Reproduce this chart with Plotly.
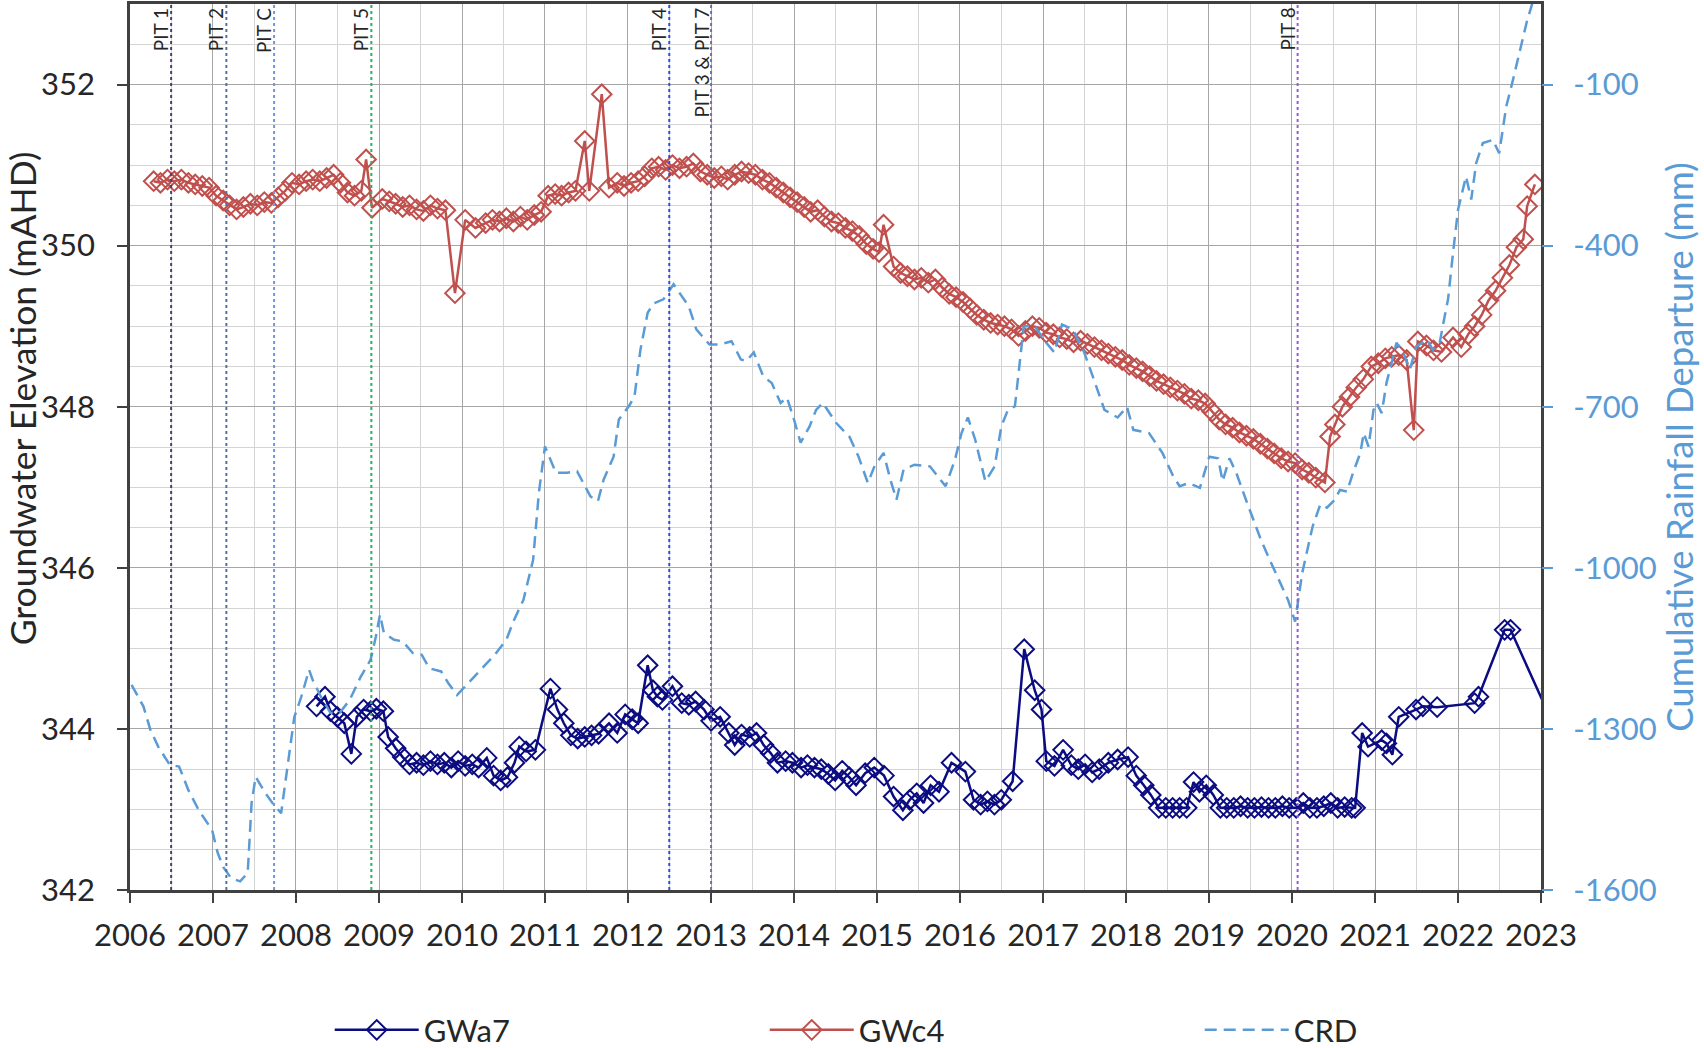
# -*- coding: utf-8 -*-

import plotly.graph_objects as go
import plotly.subplots as ms

# GWa7 groundwater elevation (mAHD)
gwa7_dates = [
    "2008-04-01", "2008-05-08", "2008-06-01", "2008-07-01", "2008-08-01", "2008-09-01",
    "2008-09-25", "2008-10-25", "2008-11-25", "2008-12-20", "2009-01-20", "2009-02-10",
    "2009-03-15", "2009-04-15", "2009-05-15", "2009-06-15", "2009-07-15", "2009-08-15",
    "2009-09-15", "2009-10-15", "2009-11-15", "2009-12-15", "2010-01-15", "2010-02-15",
    "2010-03-15", "2010-04-20", "2010-05-20", "2010-06-20", "2010-07-20", "2010-08-20",
    "2010-09-10", "2010-10-10", "2010-11-20", "2011-01-25", "2011-02-25", "2011-03-25",
    "2011-04-25", "2011-05-25", "2011-06-25", "2011-07-25", "2011-08-25", "2011-10-10",
    "2011-11-15", "2011-12-20", "2012-01-20", "2012-02-15", "2012-03-28", "2012-04-20",
    "2012-05-10", "2012-06-01", "2012-07-15", "2012-08-25", "2012-09-25", "2012-10-25",
    "2012-12-01", "2013-01-01", "2013-02-10", "2013-03-20", "2013-04-15", "2013-05-15",
    "2013-06-20", "2013-07-20", "2013-08-20", "2013-09-20", "2013-10-20", "2013-11-25",
    "2013-12-25", "2014-02-01", "2014-03-01", "2014-04-01", "2014-05-01", "2014-06-01",
    "2014-07-01", "2014-08-01", "2014-09-01", "2014-10-01", "2014-11-10", "2014-12-20",
    "2015-02-01", "2015-03-15", "2015-04-25", "2015-05-25", "2015-06-25", "2015-07-25",
    "2015-08-25", "2015-10-01", "2015-11-25", "2016-01-25", "2016-03-01", "2016-04-01",
    "2016-05-01", "2016-06-01", "2016-07-01", "2016-08-20", "2016-10-10", "2016-11-25",
    "2016-12-25", "2017-01-15", "2017-02-20", "2017-03-30", "2017-05-05", "2017-06-05",
    "2017-07-05", "2017-08-05", "2017-09-05", "2017-10-15", "2017-11-25", "2018-01-10",
    "2018-02-15", "2018-03-20", "2018-04-20", "2018-05-25", "2018-06-25", "2018-07-25",
    "2018-08-25", "2018-09-25", "2018-10-25", "2018-11-20", "2018-12-20", "2019-01-20",
    "2019-02-20", "2019-03-20", "2019-04-20", "2019-05-20", "2019-06-20", "2019-07-20",
    "2019-08-20", "2019-09-20", "2019-10-20", "2019-11-20", "2019-12-20", "2020-01-20",
    "2020-02-20", "2020-03-20", "2020-04-20", "2020-05-20", "2020-06-20", "2020-07-20",
    "2020-08-20", "2020-09-20", "2020-10-05", "2020-11-05", "2020-12-01", "2021-01-30",
    "2021-02-20", "2021-03-18", "2021-04-15", "2021-06-30", "2021-07-30", "2021-10-01",
    "2022-03-15", "2022-04-01", "2022-07-25", "2022-08-20", "2023-02-25",
]
gwa7_values = [
    344.28, 344.40, 344.22, 344.15, 344.07, 343.69,
    344.15, 344.24, 344.22, 344.25, 344.22, 343.90,
    343.76, 343.65, 343.56, 343.58, 343.55, 343.60,
    343.56, 343.58, 343.52, 343.60, 343.54, 343.56,
    343.52, 343.64, 343.42, 343.36, 343.40, 343.58,
    343.78, 343.72, 343.74, 344.50, 344.24, 344.07,
    343.92, 343.88, 343.90, 343.92, 343.94, 344.07,
    343.95, 344.18, 344.12, 344.07, 344.79, 344.48,
    344.40, 344.36, 344.53, 344.32, 344.30, 344.34,
    344.24, 344.10, 344.15, 343.95, 343.80, 343.93,
    343.90, 343.95, 343.80, 343.70, 343.58, 343.60,
    343.58, 343.52, 343.55, 343.52, 343.50, 343.44,
    343.36, 343.48, 343.40, 343.30, 343.45, 343.52,
    343.42, 343.16, 342.99, 343.12, 343.20, 343.08,
    343.30, 343.22, 343.58, 343.47, 343.12, 343.06,
    343.10, 343.06, 343.12, 343.35, 344.99, 344.48,
    344.24, 343.60, 343.54, 343.74, 343.55, 343.50,
    343.56, 343.46, 343.50, 343.58, 343.62, 343.65,
    343.42, 343.30, 343.18, 343.02, 343.02, 343.02,
    343.02, 343.02, 343.34, 343.22, 343.30, 343.18,
    343.02, 343.02, 343.02, 343.04, 343.02, 343.02,
    343.03, 343.02, 343.02, 343.04, 343.02, 343.02,
    343.08, 343.02, 343.02, 343.04, 343.08, 343.02,
    343.03, 343.02, 343.02, 343.95, 343.78, 343.86,
    343.82, 343.68, 344.15, 344.24, 344.28, 344.27,
    344.32, 344.40, 345.23, 345.23, 344.05,
]

# GWc4 groundwater elevation (mAHD)
gwc4_dates = [
    "2006-04-15", "2006-05-15", "2006-06-15", "2006-07-15", "2006-08-15", "2006-09-15",
    "2006-10-15", "2006-11-15", "2006-12-15", "2007-01-15", "2007-02-15", "2007-03-15",
    "2007-04-15", "2007-05-15", "2007-06-15", "2007-07-15", "2007-08-15", "2007-09-15",
    "2007-10-15", "2007-11-15", "2007-12-15", "2008-01-15", "2008-02-15", "2008-03-15",
    "2008-04-15", "2008-05-15", "2008-06-15", "2008-07-15", "2008-08-15", "2008-09-15",
    "2008-10-15", "2008-11-05", "2008-12-01", "2009-01-15", "2009-02-15", "2009-03-15",
    "2009-04-15", "2009-05-15", "2009-06-15", "2009-07-15", "2009-08-15", "2009-09-15",
    "2009-10-20", "2009-12-01", "2010-01-15", "2010-03-01", "2010-04-15", "2010-05-15",
    "2010-06-15", "2010-07-15", "2010-08-15", "2010-09-15", "2010-10-15", "2010-11-15",
    "2010-12-15", "2011-01-15", "2011-02-15", "2011-03-15", "2011-04-15", "2011-05-15",
    "2011-06-25", "2011-07-15", "2011-09-08", "2011-10-10", "2011-11-15", "2011-12-15",
    "2012-01-15", "2012-02-15", "2012-03-15", "2012-04-15", "2012-05-15", "2012-06-15",
    "2012-07-15", "2012-08-15", "2012-09-15", "2012-10-15", "2012-11-15", "2012-12-15",
    "2013-01-15", "2013-02-15", "2013-03-15", "2013-04-15", "2013-05-15", "2013-06-15",
    "2013-07-15", "2013-08-15", "2013-09-15", "2013-10-15", "2013-11-15", "2013-12-15",
    "2014-01-15", "2014-02-15", "2014-03-15", "2014-04-15", "2014-05-15", "2014-06-15",
    "2014-07-15", "2014-08-15", "2014-09-15", "2014-10-15", "2014-11-15", "2014-12-15",
    "2015-01-10", "2015-01-30", "2015-03-15", "2015-04-15", "2015-05-15", "2015-06-15",
    "2015-07-15", "2015-08-15", "2015-09-15", "2015-10-15", "2015-11-15", "2015-12-15",
    "2016-01-15", "2016-02-15", "2016-03-15", "2016-04-15", "2016-05-15", "2016-06-15",
    "2016-07-15", "2016-08-15", "2016-09-15", "2016-10-15", "2016-11-15", "2016-12-15",
    "2017-01-15", "2017-02-15", "2017-03-15", "2017-04-15", "2017-05-15", "2017-06-15",
    "2017-07-15", "2017-08-15", "2017-09-15", "2017-10-15", "2017-11-15", "2017-12-15",
    "2018-01-15", "2018-02-15", "2018-03-15", "2018-04-15", "2018-05-15", "2018-06-15",
    "2018-07-15", "2018-08-15", "2018-09-15", "2018-10-15", "2018-11-15", "2018-12-15",
    "2019-01-15", "2019-02-15", "2019-03-15", "2019-04-15", "2019-05-15", "2019-06-15",
    "2019-07-15", "2019-08-15", "2019-09-15", "2019-10-15", "2019-11-15", "2019-12-15",
    "2020-01-15", "2020-02-15", "2020-03-15", "2020-04-15", "2020-05-25", "2020-06-17",
    "2020-07-08", "2020-08-10", "2020-09-10", "2020-10-10", "2020-11-10", "2020-12-15",
    "2021-01-15", "2021-02-15", "2021-03-15", "2021-04-15", "2021-05-20", "2021-06-20",
    "2021-07-08", "2021-08-15", "2021-09-15", "2021-10-20", "2021-12-10", "2022-01-15",
    "2022-02-15", "2022-03-15", "2022-04-15", "2022-05-15", "2022-06-15", "2022-07-15",
    "2022-08-15", "2022-09-15", "2022-10-15", "2022-11-01", "2022-12-05",
]
gwc4_values = [
    350.80, 350.78, 350.82, 350.80, 350.82, 350.78,
    350.76, 350.74, 350.72, 350.62, 350.56, 350.50,
    350.45, 350.48, 350.52, 350.50, 350.54, 350.53,
    350.60, 350.68, 350.78, 350.76, 350.80, 350.82,
    350.80, 350.84, 350.88, 350.78, 350.66, 350.62,
    350.68, 351.07, 350.47, 350.58, 350.55, 350.52,
    350.48, 350.50, 350.45, 350.43, 350.50, 350.46,
    350.44, 349.41, 350.32, 350.22, 350.28, 350.32,
    350.30, 350.34, 350.30, 350.36, 350.32, 350.38,
    350.42, 350.62, 350.64, 350.62, 350.66, 350.68,
    351.30, 350.68, 351.88, 350.72, 350.78, 350.74,
    350.78, 350.80, 350.86, 350.96, 350.98, 350.94,
    351.00, 350.96, 350.98, 351.02, 350.92, 350.88,
    350.84, 350.86, 350.82, 350.88, 350.92, 350.90,
    350.88, 350.82, 350.78, 350.72, 350.66, 350.60,
    350.54, 350.48, 350.42, 350.44, 350.36, 350.30,
    350.28, 350.22, 350.18, 350.12, 350.02, 349.96,
    349.92, 350.26, 349.74, 349.66, 349.62, 349.58,
    349.60, 349.54, 349.58, 349.48, 349.40, 349.36,
    349.30, 349.22, 349.14, 349.08, 349.04, 349.02,
    349.00, 348.96, 348.88, 348.94, 349.00, 348.98,
    348.92, 348.90, 348.86, 348.84, 348.80, 348.82,
    348.78, 348.74, 348.70, 348.66, 348.62, 348.58,
    348.52, 348.48, 348.44, 348.38, 348.32, 348.28,
    348.24, 348.20, 348.16, 348.10, 348.08, 348.04,
    347.94, 347.84, 347.78, 347.74, 347.68, 347.64,
    347.60, 347.54, 347.48, 347.42, 347.36, 347.32,
    347.30, 347.22, 347.18, 347.12, 347.06, 347.63,
    347.78, 348.00, 348.12, 348.24, 348.34, 348.50,
    348.54, 348.60, 348.62, 348.64, 348.58, 347.71,
    348.81, 348.76, 348.70, 348.68, 348.86, 348.74,
    348.90, 349.00, 349.14, 349.32, 349.44, 349.60,
    349.76, 349.98, 350.08, 350.49, 350.76,
]

# CRD cumulative rainfall departure (mm)
crd_dates = [
    "2006-01-08", "2006-03-01", "2006-04-01", "2006-05-05", "2006-06-25", "2006-08-05",
    "2006-09-15", "2006-10-30", "2006-12-28", "2007-01-22", "2007-02-15", "2007-03-22",
    "2007-05-01", "2007-06-03", "2007-06-20", "2007-07-08", "2007-08-20", "2007-09-20",
    "2007-10-28", "2007-11-28", "2007-12-25", "2008-01-25", "2008-02-28", "2008-03-15",
    "2008-04-20", "2008-06-01", "2008-07-12", "2008-08-25", "2008-10-12", "2008-11-25",
    "2008-12-18", "2009-01-05", "2009-01-22", "2009-03-08", "2009-04-15", "2009-05-30",
    "2009-07-08", "2009-08-10", "2009-10-01", "2009-11-02", "2009-12-10", "2010-01-12",
    "2010-03-18", "2010-05-25", "2010-07-15", "2010-08-18", "2010-09-28", "2010-11-10",
    "2010-12-05", "2011-01-01", "2011-02-18", "2011-04-08", "2011-05-22", "2011-07-20",
    "2011-08-22", "2011-09-16", "2011-10-30", "2011-11-22", "2012-01-05", "2012-01-30",
    "2012-02-25", "2012-03-28", "2012-04-22", "2012-06-05", "2012-07-20", "2012-09-25",
    "2012-10-28", "2012-12-25", "2013-02-10", "2013-04-01", "2013-05-12", "2013-06-05",
    "2013-07-08", "2013-08-18", "2013-09-25", "2013-11-03", "2013-12-01", "2014-01-01",
    "2014-01-30", "2014-03-10", "2014-04-08", "2014-05-08", "2014-07-05", "2014-09-02",
    "2014-10-12", "2014-11-22", "2014-12-20", "2015-01-30", "2015-03-01", "2015-03-28",
    "2015-04-28", "2015-06-15", "2015-08-22", "2015-10-30", "2015-12-10", "2016-01-08",
    "2016-02-05", "2016-03-08", "2016-04-22", "2016-06-02", "2016-07-01", "2016-07-30",
    "2016-08-30", "2016-09-20", "2016-10-08", "2016-11-25", "2017-01-15", "2017-02-20",
    "2017-03-25", "2017-05-12", "2017-07-01", "2017-08-18", "2017-09-28", "2017-11-25",
    "2018-01-05", "2018-02-02", "2018-04-12", "2018-06-10", "2018-07-28", "2018-08-25",
    "2018-10-05", "2018-11-22", "2019-01-02", "2019-02-10", "2019-03-02", "2019-04-01",
    "2019-05-01", "2019-06-15", "2019-08-15", "2019-09-25", "2019-11-10", "2019-12-15",
    "2020-01-15", "2020-02-15", "2020-04-01", "2020-05-05", "2020-06-03", "2020-07-08",
    "2020-07-30", "2020-08-30", "2020-09-26", "2020-10-28", "2020-11-12", "2020-12-03",
    "2020-12-25", "2021-01-08", "2021-01-30", "2021-02-20", "2021-03-15", "2021-04-05",
    "2021-05-05", "2021-06-03", "2021-07-01", "2021-08-18", "2021-09-12", "2021-10-12",
    "2021-11-03", "2021-11-18", "2021-12-10", "2022-01-01", "2022-01-22", "2022-02-05",
    "2022-02-28", "2022-03-22", "2022-04-20", "2022-06-03", "2022-07-01", "2022-08-01",
    "2022-08-28", "2022-10-01", "2022-10-30", "2022-11-25", "2023-01-10",
]
crd_values = [
    -1218, -1258, -1302, -1333, -1367, -1370,
    -1414, -1451, -1488, -1531, -1557, -1578,
    -1584, -1568, -1438, -1389, -1420, -1438,
    -1457, -1358, -1278, -1240, -1190, -1209,
    -1240, -1270, -1270, -1246, -1203, -1171,
    -1128, -1087, -1121, -1134, -1137, -1159,
    -1162, -1187, -1193, -1215, -1237, -1222,
    -1193, -1162, -1134, -1097, -1060, -985,
    -861, -774, -823, -823, -820, -867,
    -876, -836, -793, -724, -699, -681,
    -594, -525, -508, -500, -472, -513,
    -556, -584, -584, -578, -612, -615,
    -599, -643, -656, -693, -683, -724,
    -767, -737, -706, -693, -730, -756,
    -793, -842, -812, -786, -836, -873,
    -817, -808, -811, -848, -799, -749,
    -720, -761, -839, -811, -737, -706,
    -699, -625, -550, -550, -581, -599,
    -547, -556, -599, -656, -706, -720,
    -700, -743, -749, -786, -830, -848,
    -842, -851, -793, -796, -839, -796,
    -823, -876, -945, -985, -1028, -1060,
    -1100, -1010, -923, -882, -888, -873,
    -855, -858, -823, -786, -749, -774,
    -706, -693, -712, -656, -618, -581,
    -599, -631, -588, -575, -594, -581,
    -532, -500, -413, -333, -296, -271,
    -314, -246, -209, -203, -228, -141,
    -96, -35, 16, 53, 100,
]

# right axis tick labels (plain hyphen, as in the source chart)
crd_ticks = [-1600, -1300, -1000, -700, -400, -100]
crd_ticktext = ["-1600", "-1300", "-1000", "-700", "-400", "-100"]

# pit events (vertical markers)
pit_names = ["PIT 1", "PIT 2", "PIT C", "PIT 5", "PIT 4", "PIT 3 & PIT 7", "PIT 8"]
pit_dates = ["2006-07-01", "2007-03-01", "2007-09-27", "2008-11-28",
             "2012-07-01", "2013-01-01", "2020-01-26"]
pit_colors = ["#4a3f72", "#4f73a8", "#6a9ad6", "#1fb85a", "#2850e6", "#7a6a9e", "#9a5ad0"]

FONT = "Lato"
BLUE = "#5b9bd5"
DARK = "#262626"

fig = ms.make_subplots(specs=[[{"secondary_y": True}]])

fig.add_trace(go.Scatter(
    x=gwa7_dates, y=gwa7_values, name="GWa7", mode="lines+markers",
    line=dict(color="#0c0c82", width=2.5),
    marker=dict(symbol="diamond-open", size=15, line=dict(width=2, color="#0c0c82")),
), secondary_y=False)

fig.add_trace(go.Scatter(
    x=gwc4_dates, y=gwc4_values, name="GWc4", mode="lines+markers",
    line=dict(color="#c0504d", width=2.5),
    marker=dict(symbol="diamond-open", size=15, line=dict(width=2, color="#c0504d")),
), secondary_y=False)

fig.add_trace(go.Scatter(
    x=crd_dates, y=crd_values, name="CRD", mode="lines",
    line=dict(color=BLUE, width=2.5, dash="12px,7px"),
), secondary_y=True)

# pit lines with rotated labels
for name, d, c in zip(pit_names, pit_dates, pit_colors):
    fig.add_shape(type="line", xref="x", yref="paper", x0=d, x1=d, y0=0, y1=1,
                  line=dict(color=c, width=2, dash="dot"), layer="above")
    fig.add_annotation(x=d, xref="x", y=1, yref="paper", text=name, showarrow=False,
                       textangle=-90, xanchor="right", yanchor="top", xshift=3, yshift=-2,
                       font=dict(family=FONT, size=19, color=DARK))

# left axis title, sits a little above the plot centre in the source
fig.add_annotation(x=-0.0765, xref="paper", y=0.555, yref="paper",
                   text="Groundwater Elevation (mAHD)", showarrow=False, textangle=-90,
                   xanchor="center", yanchor="middle",
                   font=dict(family=FONT, size=35.5, color=DARK))

fig.update_xaxes(
    type="date", range=["2006-01-01", "2023-01-01"], domain=[0, 1],
    tickmode="linear", tick0="2006-01-01", dtick="M12", tickformat="%Y",
    showgrid=True, gridcolor="#a6a6a6", gridwidth=1.3,
    minor=dict(dtick="M6", showgrid=True, gridcolor="#d4d4d4", gridwidth=1),
    ticks="outside", ticklen=10, tickwidth=1.5, tickcolor="#404040",
    showline=True, linecolor="#404040", linewidth=2.5, mirror=True,
    tickfont=dict(family=FONT, size=31, color=DARK), ticklabelstandoff=6,
    automargin=False,
)

fig.update_yaxes(
    range=[342, 353], tickmode="linear", tick0=342, dtick=2,
    showgrid=True, gridcolor="#a6a6a6", gridwidth=1.3,
    minor=dict(dtick=0.5, showgrid=True, gridcolor="#d4d4d4", gridwidth=1),
    ticks="outside", ticklen=10, tickwidth=1.5, tickcolor="#404040",
    showline=True, linecolor="#404040", linewidth=2.5, mirror=True, zeroline=False,
    tickfont=dict(family=FONT, size=31, color=DARK), ticklabelstandoff=16,
    automargin=False, secondary_y=False,
)

fig.update_yaxes(
    range=[-1600, 50], tickmode="array", tickvals=crd_ticks, ticktext=crd_ticktext,
    showgrid=False, zeroline=False, showline=False,
    ticks="outside", ticklen=11, tickwidth=1.5, tickcolor=BLUE,
    tickfont=dict(family=FONT, size=31, color=BLUE), ticklabelstandoff=14,
    title=dict(text="Cumulative Rainfall Departure (mm)", font=dict(family=FONT, size=36.5, color=BLUE),
               standoff=4),
    automargin=False, secondary_y=True,
)

fig.update_layout(
    width=1704, height=1048,
    margin=dict(l=130, r=163, t=4, b=158),
    paper_bgcolor="white", plot_bgcolor="white",
    font=dict(family=FONT, color=DARK),
    showlegend=True,
    legend=dict(orientation="h", xref="container", yref="container",
                x=0.1935, xanchor="left", y=0.017, yanchor="middle",
                entrywidth=336, entrywidthmode="pixels", itemwidth=84,
                font=dict(family=FONT, size=31, color=DARK), bgcolor="rgba(0,0,0,0)"),
)

fig.write_html("out.html", config={"displayModeBar": False},
               post_script="document.body.style.margin='0';")
